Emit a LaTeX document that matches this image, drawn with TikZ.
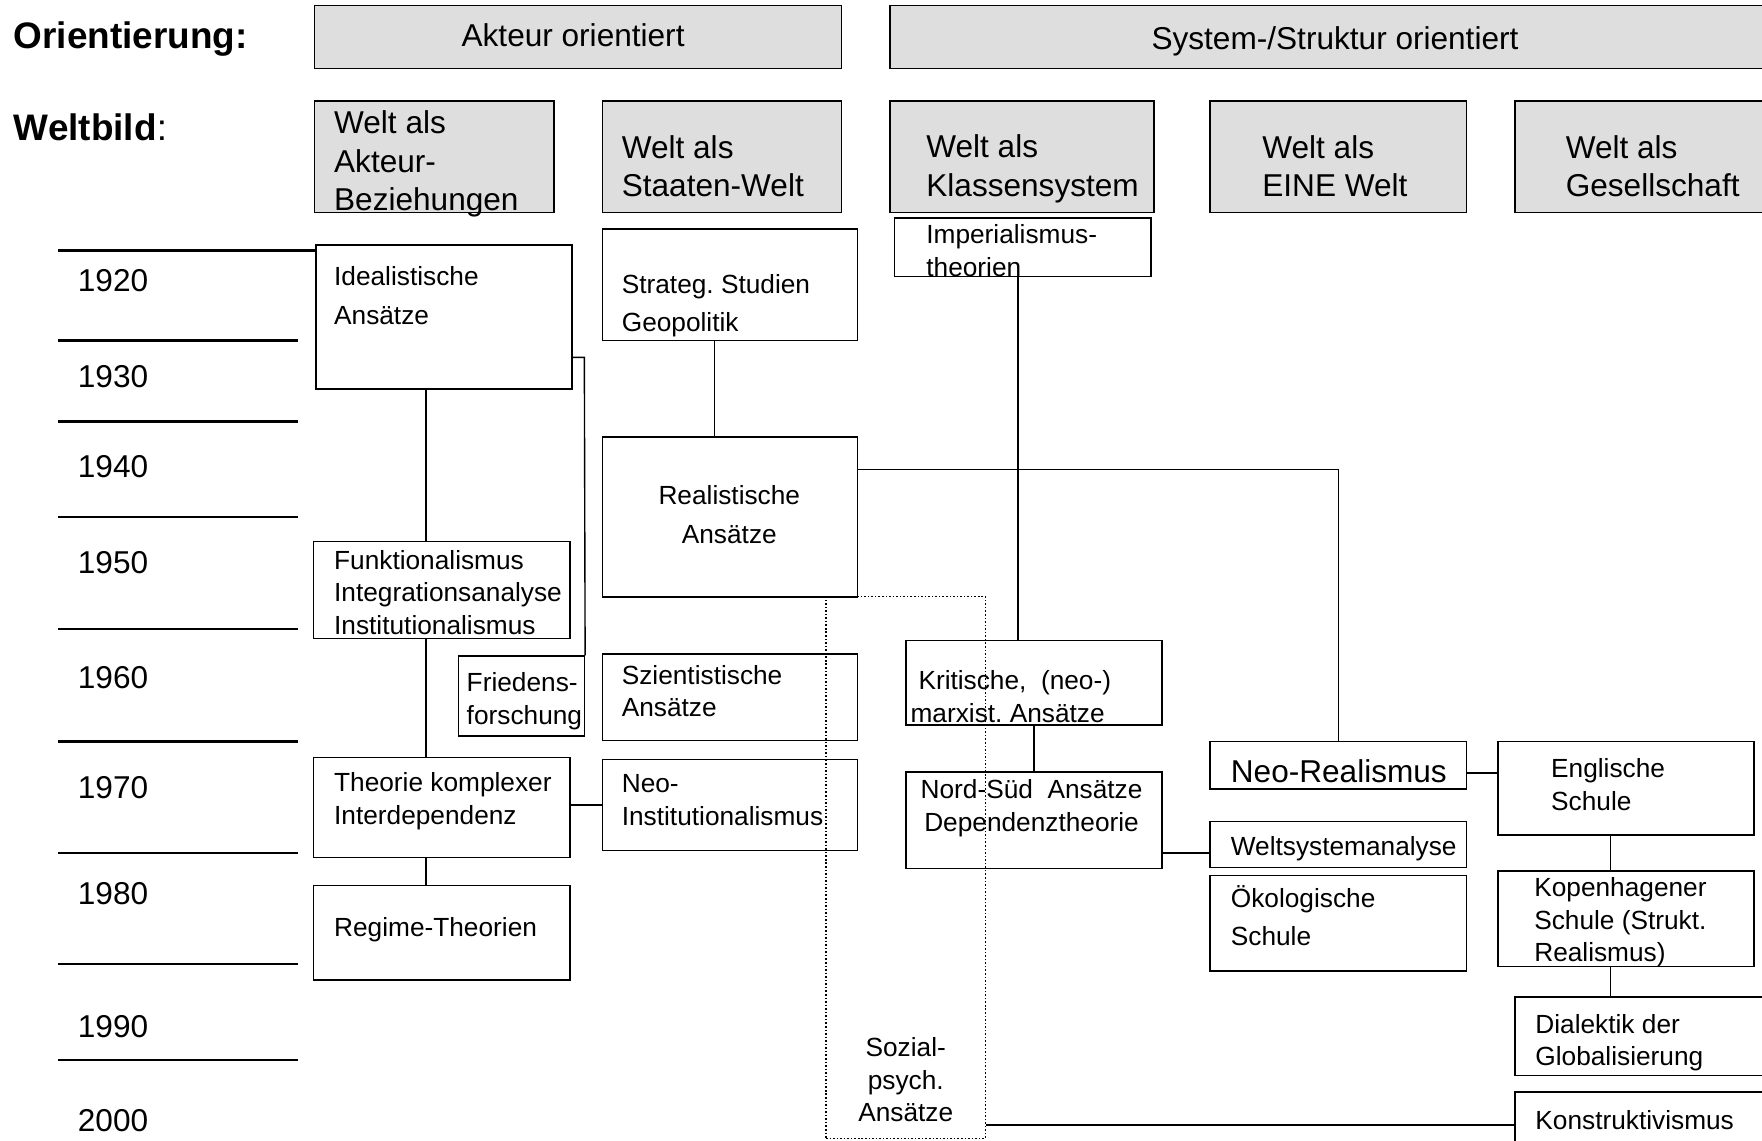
\documentclass[tikz,border=0pt]{standalone}
\usepackage{fontspec}
\setmainfont{Liberation Sans}
\usetikzlibrary{fit}
\frenchspacing

\tikzset{
	box/.style={draw, line width=0.8pt, inner sep=0pt},
	gbox/.style={box, fill=black!13},
	sbox/.style={box, densely dotted, line width=0.7pt},
	txt/.style={inner sep=0pt, align=left, anchor=west, font=\fontsize{13.3}{16.5}\selectfont},
	wtxt/.style={txt, font=\fontsize{13.3}{19.5}\selectfont},
	bigtxt/.style={txt, font=\fontsize{16}{19.6}\selectfont},
	head/.style={txt, font=\fontsize{18.7}{22}\selectfont},
	yline/.style={line width=1.2pt},
	con/.style={line width=0.7pt},
}

\begin{document}
\begin{tikzpicture}[x=0.02cm, y=-0.02cm]
	\clip (0,0) rectangle (1568,1015);
	\fill[white] (0,0) rectangle (1568,1015);

	\node[head, font=\fontsize{18.7}{22}\selectfont\bfseries] (orient) at (12,35) {Orientierung:};
	\node[head] (weltbild) at (12,113) {\textbf{Weltbild}:};

	\node[gbox, fit={(280,5) (749,61)}] (akteur) {};
	\node[bigtxt, anchor=center] (akteur-t) at (510,31) {Akteur orientiert};
	\node[gbox, fit={(792,5) (1600,61)}] (system) {};
	\node[bigtxt, anchor=center] (system-t) at (1188,37) {System-/Struktur orientiert};

	\node[gbox, fit={(280,90) (493,189)}] (wAkteur) {};
	\node[bigtxt] (wAkteur-t) at (297,146) {Welt als\\Akteur-\\Beziehungen};
	\node[gbox, fit={(536,90) (749,189)}] (wStaat) {};
	\node[bigtxt] (wStaat-t) at (553,148) {Welt als\\Staaten-Welt};
	\node[gbox, fit={(792,90) (1027,189)}] (wKlasse) {};
	\node[bigtxt] (wKlasse-t) at (824,150) {Welt als\\Klassensystem};
	\node[gbox, fit={(1077,90) (1305,189)}] (wEine) {};
	\node[bigtxt] (wEine-t) at (1123,148) {Welt als\\EINE Welt};
	\node[gbox, fit={(1348,90) (1600,189)}] (wGesell) {};
	\node[bigtxt] (wGesell-t) at (1393,148) {Welt als\\Gesellschaft};

	\draw[yline] (52,223) -- (280,223);
	\draw[yline] (52,303) -- (265,303);
	\draw[yline] (52,375) -- (265,375);
	\draw[yline] (52,460) -- (265,460);
	\draw[yline] (52,560) -- (265,560);
	\draw[yline] (52,660) -- (265,660);
	\draw[yline] (52,759) -- (265,759);
	\draw[yline] (52,858) -- (265,858);
	\draw[yline] (52,943) -- (265,943);
	\node[bigtxt] (y1920) at (69,250) {1920};
	\node[bigtxt] (y1930) at (69,335) {1930};
	\node[bigtxt] (y1940) at (69,415) {1940};
	\node[bigtxt] (y1950) at (69,501) {1950};
	\node[bigtxt] (y1960) at (69,603) {1960};
	\node[bigtxt] (y1970) at (69,701) {1970};
	\node[bigtxt] (y1980) at (69,795) {1980};
	\node[bigtxt] (y1990) at (69,914) {1990};
	\node[bigtxt] (y2000) at (69,997) {2000};

	\node[box, fit={(281,218) (509,346)}] (ideal) {};
	\node[wtxt] (ideal-t) at (297,263) {Idealistische\\Ansätze};
	\node[box, fit={(536,204) (763,303)}] (strat) {};
	\node[wtxt] (strat-t) at (553,272) {Strateg. Studien\\Geopolitik};
	\node[box, fit={(796,194) (1024,246)}] (imper) {};
	\node[txt] (imper-t) at (824,223) {Imperialismus-\\theorien};
	\node[box, fit={(536,389) (763,531)}] (real) {};
	\node[wtxt, anchor=center, align=center] (real-t) at (649,458) {Realistische\\Ansätze};
	\node[box, fit={(279,482) (507,568)}] (funk) {};
	\node[txt] (funk-t) at (297,527) {Funktionalismus\\Integrationsanalyse\\Institutionalismus};
	\node[box, fit={(408,584) (520,655)}] (fried) {};
	\node[txt] (fried-t) at (415,624) {Friedens-\\forschung};
	\node[box, fit={(536,582) (763,659)}] (szient) {};
	\node[txt] (szient-t) at (553,615) {Szientistische\\Ansätze};
	\node[box, fit={(806,570) (1034,645)}] (krit) {};
	\node[txt] (krit-t) at (810,620) {\hspace*{0.3em}Kritische,\ \ (neo-)\\marxist. Ansätze};
	\node[box, fit={(279,674) (507,763)}] (theorie) {};
	\node[txt] (theorie-t) at (297,713) {Theorie komplexer\\Interdependenz};
	\node[box, fit={(536,676) (763,757)}] (neoinst) {};
	\node[txt] (neoinst-t) at (553,712) {Neo-\\Institutionalismus};
	\node[box, fit={(806,687) (1034,773)}] (nordsued) {};
	\node[txt, anchor=center, align=center] (nordsued-t) at (918,719) {Nord-Süd\ \ Ansätze\\Dependenztheorie};
	\node[box, fit={(279,788) (507,872)}] (regime) {};
	\node[txt] (regime-t) at (297,827) {Regime-Theorien};

	\node[box, fit={(1077,660) (1305,702)}] (neoreal) {};
	\node[bigtxt] (neoreal-t) at (1095,686) {Neo-Realismus};
	\node[box, fit={(1077,731) (1305,772)}] (welts) {};
	\node[txt] (welts-t) at (1095,755) {Weltsystemanalyse};
	\node[box, fit={(1077,779) (1305,864)}] (oeko) {};
	\node[wtxt] (oeko-t) at (1095,815) {Ökologische\\Schule};
	\node[box, fit={(1333,660) (1561,743)}] (engl) {};
	\node[txt] (engl-t) at (1380,698) {Englische\\Schule};
	\node[box, fit={(1333,775) (1561,860)}] (kopen) {};
	\node[txt] (kopen-t) at (1365,821) {Kopenhagener\\Schule (Strukt.\\Realismus)};
	\node[box, fit={(1348,887) (1600,957)}] (dialek) {};
	\node[txt] (dialek-t) at (1366,928) {Dialektik der\\Globalisierung};
	\node[box, fit={(1348,972) (1600,1040)}] (konstr) {};
	\node[txt] (konstr-t) at (1366,997) {Konstruktivismus};

	\node[sbox, fit={(735,531) (877,1013)}] (sozial) {};
	\node[txt, anchor=center, align=center] (sozial-t) at (806,961) {Sozial-\\psych.\\Ansätze};

	\coordinate (colA) at (379,0);
	\draw[con] (ideal.south -| colA) -- (funk.north -| colA);
	\draw[con] (funk.south -| colA) -- (theorie.north -| colA);
	\draw[con] (theorie.south -| colA) -- (regime.north -| colA);
	\coordinate (kf) at (520,318);
	\draw[con] (kf -| ideal.east) -- (kf) -- (fried.north east);
	\coordinate (colS) at (636,0);
	\draw[con] (strat.south -| colS) -- (real.north -| colS);
	\coordinate (rowR) at (0,418);
	\draw[con] (rowR -| real.east) -| (neoreal.north);
	\coordinate (colK) at (906,0);
	\draw[con] (imper.south -| colK) -- (krit.north -| colK);
	\draw[con] (krit.south) -- (nordsued.north);
	\draw[con] (neoinst.west -| theorie.east) -- (neoinst.west);
	\coordinate (rowW) at (0,759);
	\draw[con] (rowW -| nordsued.east) -- (rowW -| welts.west);
	\coordinate (rowN) at (0,688);
	\draw[con] (rowN -| neoreal.east) -- (rowN -| engl.west);
	\coordinate (colE) at (1433,0);
	\draw[con] (engl.south -| colE) -- (kopen.north -| colE);
	\draw[con] (kopen.south -| colE) -- (dialek.north -| colE);
	\coordinate (rowK) at (0,1001);
	\draw[con] (rowK -| sozial.east) -- (rowK -| konstr.west);
\end{tikzpicture}
\end{document}
